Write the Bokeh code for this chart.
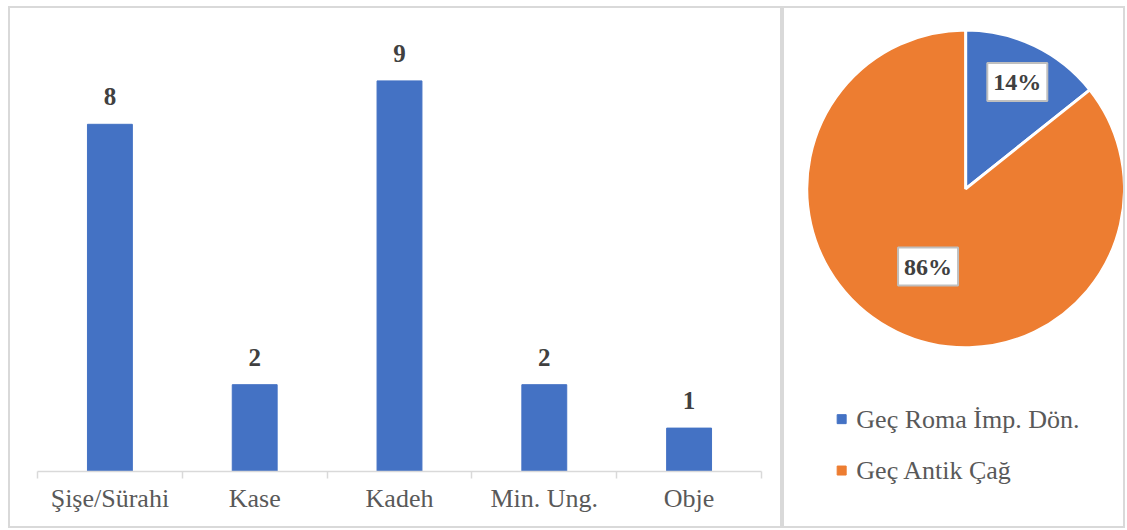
import math
import numpy as np
from bokeh.plotting import figure
from bokeh.layouts import row
from bokeh.models import (Range1d, LinearAxis, FixedTicker,
                          ColumnDataSource, LabelSet, Label)
from bokeh.core.properties import value
from bokeh.embed import file_html
from bokeh.resources import INLINE

# ---- data ----
categories = ["Şişe/Sürahi", "Kase", "Kadeh", "Min. Ung.", "Obje"]
counts = [8, 2, 9, 2, 1]
periods = ["Geç Roma İmp. Dön.", "Geç Antik Çağ"]
period_counts = [3, 18]

BLUE = "#4472C4"
ORANGE = "#ED7D31"
GRID = "#d9d9d9"
FONT = "Liberation Serif, Times New Roman, serif"
BORDER = {"border": "2px solid #d9d9d9", "box-sizing": "border-box"}

n = len(categories)
pos = list(range(n))

# ---- bar chart ----
p = figure(width=774, height=522, title=None,
           x_range=Range1d(-0.5, n - 0.5),
           y_range=Range1d(0, 10),
           x_axis_location=None, y_axis_location=None,
           output_backend="svg", toolbar_location=None,
           min_border_left=27, min_border_right=23,
           min_border_top=29, min_border_bottom=59,
           styles=BORDER)
p.frame_align = False
p.grid.visible = False
p.outline_line_color = None
p.background_fill_color = "white"

edge_axis = LinearAxis(ticker=FixedTicker(ticks=[i - 0.5 for i in range(n + 1)]),
                       major_tick_out=7, major_tick_in=0,
                       minor_tick_out=0, minor_tick_in=0,
                       axis_line_color=GRID, major_tick_line_color=GRID,
                       axis_line_width=1.5, major_tick_line_width=1.5,
                       major_label_text_font_size="0px", major_label_standoff=0,
                       major_label_overrides={i - 0.5: "" for i in range(n + 1)})
cat_axis = LinearAxis(ticker=FixedTicker(ticks=pos),
                      major_label_overrides={i: c for i, c in zip(pos, categories)},
                      major_tick_out=0, major_tick_in=0,
                      minor_tick_out=0, minor_tick_in=0,
                      axis_line_color=None, major_tick_line_color=None,
                      major_label_text_font=FONT,
                      major_label_text_font_size="26px",
                      major_label_text_color="#595959",
                      major_label_standoff=5)
p.add_layout(edge_axis, "below")
p.add_layout(cat_axis, "below")

src = ColumnDataSource(dict(x=pos, count=counts, label=[str(c) for c in counts]))
p.vbar(x="x", top="count", width=0.31, source=src, fill_color=BLUE, line_color=BLUE)
p.add_layout(LabelSet(x="x", y="count", text="label", source=src, y_offset=19,
                      text_align="center", text_baseline="alphabetic",
                      text_font=value(FONT), text_font_style="bold",
                      text_font_size="25px", text_color="#404040"))

# ---- pie chart ----
W, H = 339, 518
q = figure(width=W + 4, height=H + 4, title=None,
           x_range=Range1d(0, W), y_range=Range1d(0, H),
           x_axis_location=None, y_axis_location=None,
           output_backend="svg", toolbar_location=None,
           min_border=0, min_border_left=0, min_border_right=0,
           min_border_top=0, min_border_bottom=0, styles=BORDER)
q.frame_align = False
q.grid.visible = False
q.outline_line_color = None

cx, cy, R = 179, 339, 157
total = sum(period_counts)
fr = np.array(period_counts) / total
cum = np.cumsum(fr)
start_angles = math.pi / 2 - 2 * math.pi * cum
end_angles = math.pi / 2 - 2 * math.pi * (cum - fr)
colors = [BLUE, ORANGE]
psrc = ColumnDataSource(dict(start=start_angles, end=end_angles, color=colors))
q.wedge(x=cx, y=cy, radius=R, start_angle="start", end_angle="end",
        fill_color="color", line_color="white", line_width=3, source=psrc)

label_r = [0.75, 0.545]
for i, f in enumerate(fr):
    mid = (start_angles[i] + end_angles[i]) / 2
    q.add_layout(Label(x=cx + label_r[i] * R * math.cos(mid),
                       y=cy + label_r[i] * R * math.sin(mid),
                       text=f"{round(100 * f)}%",
                       text_align="center", text_baseline="middle",
                       text_font=FONT, text_font_style="bold",
                       text_font_size="24px", text_color="#404040",
                       background_fill_color="white",
                       border_line_color="#bfbfbf", border_line_width=2,
                       padding=6))

# legend
leg_x = 56.5
leg_y = [110.5 - 51 * i for i in range(len(periods))]
q.scatter(x=[leg_x] * len(periods), y=leg_y, marker="square", size=9,
          fill_color=colors, line_color=colors)
q.text(x=[leg_x + 14.5] * len(periods), y=leg_y, text=periods,
       text_baseline="middle", text_align="left",
       text_font=value(FONT), text_font_size="26px", text_color="#595959")

layout = row(p, q, styles={"margin-left": "8px", "margin-top": "6px"})
open("out.html", "w").write(file_html(layout, INLINE))
